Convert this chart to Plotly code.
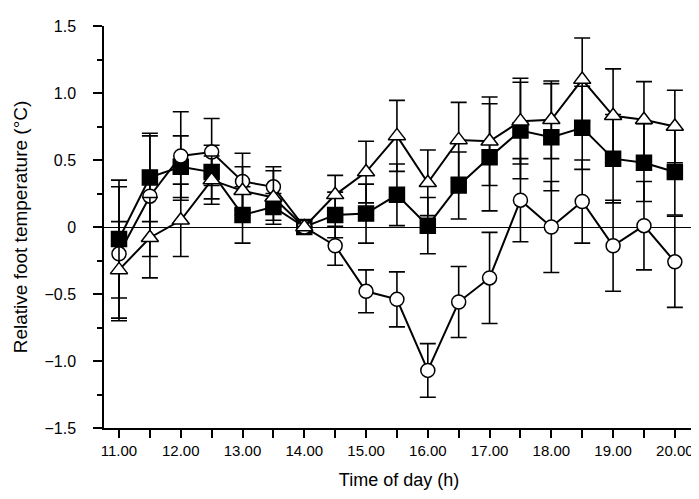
import plotly.graph_objects as go

# Hora del día (h) y temperatura relativa del pie (°C) para los tres grupos
hora = [11.0, 11.5, 12.0, 12.5, 13.0, 13.5, 14.0, 14.5, 15.0, 15.5,
        16.0, 16.5, 17.0, 17.5, 18.0, 18.5, 19.0, 19.5, 20.0]

cuadrado = [-0.09, 0.37, 0.45, 0.41, 0.09, 0.15, 0.0, 0.09, 0.10, 0.24,
            0.01, 0.31, 0.52, 0.72, 0.67, 0.74, 0.51, 0.48, 0.41]
cuadrado_err = [0.44, 0.33, 0.23, 0.20, 0.21, 0.10, 0.0, 0.17, 0.22, 0.23,
                0.21, 0.25, 0.40, 0.36, 0.40, 0.31, 0.33, 0.29, 0.32]

circulo = [-0.20, 0.23, 0.53, 0.56, 0.34, 0.30, 0.0, -0.14, -0.48, -0.54,
           -1.07, -0.56, -0.38, 0.20, 0.0, 0.19, -0.14, 0.01, -0.26]
circulo_err = [0.50, 0.45, 0.33, 0.25, 0.21, 0.15, 0.0, 0.145, 0.16, 0.205,
               0.20, 0.265, 0.34, 0.31, 0.34, 0.31, 0.34, 0.33, 0.34]

triangulo = [-0.32, -0.08, 0.05, 0.35, 0.27, 0.22, 0.0, 0.24, 0.41, 0.68,
             0.33, 0.65, 0.64, 0.79, 0.80, 1.10, 0.83, 0.80, 0.75]
triangulo_err = [0.36, 0.30, 0.27, 0.18, 0.18, 0.20, 0.0, 0.145, 0.23, 0.265,
                 0.245, 0.28, 0.33, 0.32, 0.29, 0.31, 0.35, 0.285, 0.27]

etiquetas_x = ["11.00", "", "12.00", "", "13.00", "", "14.00", "", "15.00", "",
               "16.00", "", "17.00", "", "18.00", "", "19.00", "", "20.00"]
valores_y = [-1.5, -1.0, -0.5, 0.0, 0.5, 1.0, 1.5]
etiquetas_y = ["\u22121.5", "\u22121.0", "\u22120.5", "0", "0.5", "1.0", "1.5"]

FUENTE = "Liberation Sans, Arial, sans-serif"


def _serie(y, err, simbolo, relleno, tam):
    return go.Scatter(
        x=hora, y=y, mode="lines+markers",
        line=dict(color="black", width=2),
        marker=dict(symbol=simbolo, size=tam, color=relleno,
                    line=dict(color="black", width=1.5)),
        error_y=dict(type="data", array=err, visible=True,
                     color="black", thickness=1.6, width=8),
        showlegend=False, hoverinfo="x+y",
    )


fig = go.Figure()
fig.add_trace(_serie(cuadrado, cuadrado_err, "square", "black", 15))
fig.add_trace(_serie(circulo, circulo_err, "circle", "white", 14))
fig.add_trace(_serie(triangulo, triangulo_err, "triangle-up", "white", 15))

fig.update_layout(
    width=699, height=499,
    paper_bgcolor="white", plot_bgcolor="white",
    margin=dict(l=96, r=13, t=10, b=79),
    font=dict(family=FUENTE, size=15, color="black"),
    xaxis=dict(
        range=[10.757, 20.31],
        tickvals=hora, ticktext=etiquetas_x,
        tickfont=dict(size=15),
        ticks="outside", ticklen=8, tickwidth=1.5, tickcolor="black",
        showline=True, linecolor="black", linewidth=1.5,
        showgrid=False, zeroline=False,
        title=dict(text="Time of day (h)", font=dict(size=18), standoff=16),
    ),
    yaxis=dict(
        range=[-1.5, 1.5],
        tickvals=valores_y, ticktext=etiquetas_y,
        tickfont=dict(size=16),
        ticks="outside", ticklen=9, tickwidth=1.5, tickcolor="black",
        ticklabelstandoff=14,
        minor=dict(dtick=0.25, tick0=0, ticks="outside", ticklen=5,
                   tickwidth=1.5, tickcolor="black"),
        showline=True, linecolor="black", linewidth=1.5,
        showgrid=False,
        zeroline=True, zerolinecolor="black", zerolinewidth=1,
        title=dict(text="Relative foot temperature (°C)", font=dict(size=19),
                   standoff=12),
    ),
)

fig.write_html("out.html")
